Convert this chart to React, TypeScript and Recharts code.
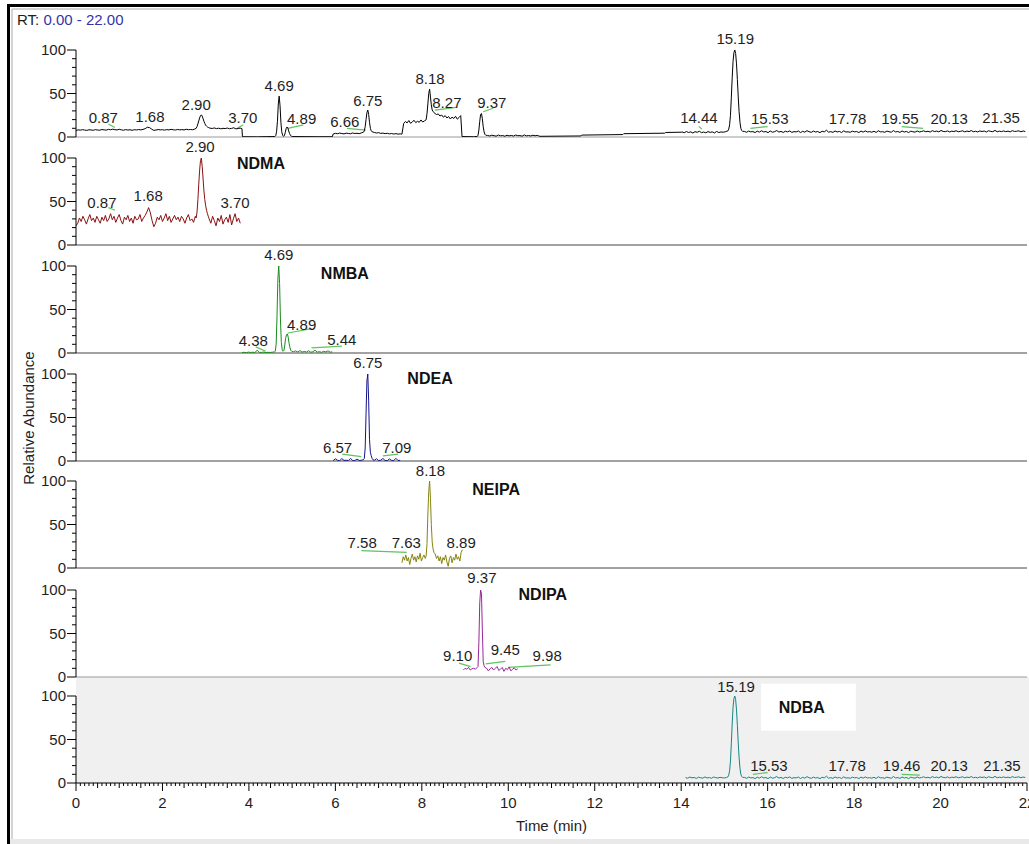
import { ComposedChart, Line, XAxis, YAxis, ReferenceLine, ReferenceDot, ReferenceArea } from 'recharts';

// ---------- traces (relative abundance %) ----------
// runs are [first retention time, sampling step in min]

// TIC
const ticA = [7.5, 8.2, 7.9, 8.4, 8.0, 7.6, 8.3, 8.1, 7.7, 8.5,
  8.0, 7.8, 8.6, 8.2, 7.9, 8.8, 8.3, 9.0, 8.4, 8.1,
  8.9, 8.2, 7.8, 8.5, 8.0, 8.3, 7.7, 8.4, 8.1, 8.6,
  8.2, 8.7, 9.6, 11.2, 10.8, 9.0, 7.6, 8.0, 8.6, 8.2,
  8.4, 7.9, 8.5, 8.1, 8.8, 8.3, 8.0, 8.7, 8.2, 8.5,
  8.1, 8.9, 8.4, 8.6, 8.3, 9.2];
const ticPeak290 = [10, 12, 15, 18.5, 22, 24.5, 25.5, 24, 21, 18, 15.5, 13.5, 12.5, 11.5, 11, 10.5];
const ticB = [10.2, 9.8, 10.4, 9.6, 10.1, 9.4, 10.0, 9.7, 10.3, 9.5, 9.9, 10.6, 9.3, 9.8, 10.2];
const ticGap1 = [[3.84, 9.5], [3.85, 0.3], [4.2, 0.2], [4.4, 0.4]];
const ticPeak469 = [0.5, 1.5, 6, 18, 38, 47, 36, 17, 6, 2, 0.8, 1.5, 5, 9.5, 11.5, 10.5, 7, 4, 2, 1, 0.5];
const ticGap2 = [[5.3, 0.4], [5.6, 0.3], [5.93, 0.3]];
const ticC = [3.5, 4.2, 3.8, 4.5, 4.0, 3.6, 4.4, 4.1, 3.7, 4.6, 4.0, 4.3, 3.8, 4.7, 5.5];
const ticPeak675 = [7, 12, 20, 28, 31, 26, 17, 10, 7, 6];
const ticD = [5.2, 4.6, 5.0, 4.1, 4.5, 3.8, 4.3, 3.6, 4.0, 3.4, 3.9, 3.3, 3.6];
const ticE = [3.2, 15.5, 17.8, 16.2, 18.9, 15.7, 17.4, 19.2, 16.5, 18.1, 16.9, 19.6, 17.2, 18.5, 19.8];
const ticPeak818 = [27, 38, 50, 55, 46, 37, 31, 29.5, 28];
const ticF = [27.2, 25.8, 26.5, 24.1, 25.3, 22.8, 24.6, 21.9, 23.5, 20.7, 22.9, 21.3, 23.8, 20.5, 22.4, 24.6];
const ticGap3 = [[8.93, 0.5], [9.2, 0.3], [9.28, 0.5]];
const ticPeak937 = [2, 8, 18, 26, 27, 21, 12, 6, 3, 2];
const ticG = [1.8, 1.2, 2.1, 1.5, 1.0, 2.3, 1.4, 1.7, 0.9, 2.0, 1.3, 1.8, 1.1, 2.2, 1.5, 1.6, 1.0, 2.4, 1.3, 1.7, 1.2, 2.0, 1.4, 1.9];
const ticSteps = [[10.73, 0.8], [11.68, 1.2], [11.7, 2.2], [12.65, 2.8], [12.67, 3.8], [13.62, 4.4], [13.64, 5.2], [14.0, 5.5]];
const ticH = [5.8, 4.9, 6.3, 5.2, 5.9, 4.6, 6.1, 5.4, 6.6, 5.0, 5.7, 4.8, 6.2, 5.3, 5.9, 4.7, 6.4, 5.1, 5.8, 5.5, 6.0];

// NDMA
const ndmaA = [22, 25, 31, 27, 33, 29, 24, 30, 35, 28,
  31, 26, 33, 29, 25, 32, 28, 34, 27, 30,
  36, 29, 33, 26, 31, 35, 28, 24, 32, 29,
  34, 27, 31, 25, 33, 29, 30, 35, 27, 31,
  34, 38, 43, 37, 28, 21, 25, 32, 29, 34,
  27, 31, 36, 28, 33, 26, 30, 34, 29, 32,
  27, 33, 30, 25, 31, 35, 28, 30, 26, 33];
const ndmaPeak = [31, 38, 52, 70, 86, 97, 100, 90, 76, 62, 52, 45, 40, 36, 33];
const ndmaB = [30, 25, 33, 28, 22, 31, 27, 34, 24, 29, 32, 26, 35, 23, 30, 36, 27, 31, 25];

// NMBA
const nmbaA = [0.5, 0.8, 0.4, 1.0, 0.6, 0.9, 0.5, 3.2, 0.7, 0.6, 1.1, 0.5, 0.8, 0.6, 0.9, 1.2];
const nmbaPeak = [2, 10, 42, 85, 100, 80, 38, 12, 4, 2, 3, 9, 17, 21, 22, 18, 11, 6, 3, 2];
const nmbaB = [1.5, 2.4, 1.2, 2.8, 1.0, 1.8, 1.1, 2.6, 0.9, 1.4, 3.2, 1.0, 1.5, 0.8, 1.9, 1.2, 2.5, 0.9, 1.3];

// NDEA
const ndeaA = [0.5, 2.5, 0.8, 0.4, 2.8, 0.6, 0.9, 0.5, 3.0, 0.7, 0.4, 2.2, 0.6, 0.8, 1.5];
const ndeaPeak = [3, 15, 55, 92, 100, 70, 25, 10, 6, 3, 1.5];
const ndeaB = [0.8, 2.6, 0.5, 0.9, 2.9, 0.6, 0.4, 2.4, 0.7, 0.5, 3.1, 0.6, 0.8];

// NEIPA
const neipaA = [6, 13, 9, 15, 8, 12, 4, 11, 16, 9, 13, 7, 14, 10, 17, 8, 12, 15, 11];
const neipaPeak = [14, 28, 62, 88, 100, 80, 50, 30, 22, 18];
const neipaB = [16, 11, 14, 8, 13, 5, 12, 9, 15, 7, 2, 11, 14, 6, 12, 9, 16, 10, 13, 8, 18, 21];

// NDIPA
const ndipaA = [8, 10, 9, 11, 8, 9.5, 10, 9, 11];
const ndipaPeak = [12, 40, 85, 100, 96, 55, 18, 13, 11];
const ndipaB = [10, 7, 9.5, 11, 8, 10, 12, 7.5, 9, 11, 6.5, 10, 8.5, 11.5, 7, 9, 10.5, 8, 9.5];

// NDBA
const ndbaPre = [6.2, 5.5, 6.8, 5.9, 6.4, 5.2, 6.7, 6.0, 5.6, 7.0, 5.8, 6.3, 5.4, 6.9, 6.1, 5.7, 6.5, 6.0, 5.8, 6.4];
const ndbaPeak = [7, 9, 14, 25, 45, 68, 87, 97, 100, 96, 84, 66, 46, 29, 17, 10, 7.5, 6.5];
const ndbaTail = [
  6.5, 5.4, 6.8, 5.9, 6.2, 5.1, 6.7, 5.6, 7.2, 5.8, 6.3, 5.0, 6.9, 5.5, 6.1, 7.4, 5.7, 6.4, 5.2, 6.6,
  5.9, 7.0, 5.3, 6.2, 5.8, 6.9, 5.1, 6.5, 5.6, 7.3, 6.0, 5.4, 6.8, 5.7, 6.3, 5.0, 6.6, 5.9, 7.8, 5.5,
  6.2, 5.3, 6.9, 5.8, 6.4, 5.2, 7.1, 5.7, 6.0, 5.4, 6.7, 5.9, 6.3, 5.1, 6.8, 5.6, 7.0, 5.8, 6.2, 5.5,
  6.6, 5.2, 7.2, 5.9, 6.1, 5.4, 6.8, 6.0, 5.5, 7.4, 5.8, 6.3, 5.3, 6.9, 5.7, 6.4, 5.1, 6.7, 6.0, 5.6,
  6.9, 5.8, 6.3, 7.1, 6.0, 6.6, 5.7, 7.3, 6.2, 6.8, 5.9, 7.5, 6.4, 6.1, 7.0, 5.8, 6.7, 6.3, 7.2, 6.0,
  6.5, 7.1, 5.9, 6.8, 6.2, 7.4, 6.0, 6.6, 5.8, 7.0, 6.3, 6.9, 5.7, 7.2, 6.4, 6.1, 7.6, 6.0, 6.7, 6.2,
  7.0, 6.1, 6.8, 5.9, 7.3, 6.4, 6.6, 7.1, 6.0, 6.9, 6.3];

// ---------- peak annotations: [text, rt position, height] ----------
const ticLabels: [string, number, number][] = [
  ['0.87', 0.63, 22], ['1.68', 1.71, 23], ['2.90', 2.78, 37], ['3.70', 3.86, 22], ['4.69', 4.7, 59],
  ['4.89', 5.22, 21], ['6.66', 6.22, 18], ['6.75', 6.75, 42], ['8.18', 8.19, 67], ['8.27', 8.58, 40],
  ['9.37', 9.62, 40], ['14.44', 14.41, 22], ['15.19', 15.25, 113], ['15.53', 16.05, 21],
  ['17.78', 17.85, 21], ['19.55', 19.06, 21], ['20.13', 20.2, 21], ['21.35', 21.4, 22],
];
const ticLeaders = [[0.75, 15, 0.9, 11], [3.73, 10, 3.87, 14], [4.9, 10, 5.26, 14], [6.27, 10, 6.7, 8],
  [8.3, 31, 8.8, 34], [9.42, 29, 9.65, 33], [14.41, 12, 14.48, 9], [15.6, 10, 16.0, 12], [19.1, 12, 19.6, 10]];

const ndmaLabels: [string, number, number][] = [['0.87', 0.6, 49], ['1.68', 1.67, 57], ['2.90', 2.87, 113], ['3.70', 3.68, 49]];
const ndmaLeaders = [[0.75, 43, 0.9, 40]];

const nmbaLabels: [string, number, number][] = [['4.38', 4.1, 14], ['4.69', 4.69, 113], ['4.89', 5.22, 32], ['5.44', 6.15, 15]];
const nmbaLeaders = [[4.16, 7, 4.39, 2], [4.9, 23, 5.45, 28], [5.45, 6, 6.15, 8]];

const ndeaLabels: [string, number, number][] = [['6.57', 6.05, 15], ['6.75', 6.75, 113], ['7.09', 7.42, 15]];
const ndeaLeaders = [[6.16, 8, 6.6, 5], [7.1, 6, 7.45, 8]];

const neipaLabels: [string, number, number][] = [['7.58', 6.62, 29], ['7.63', 7.64, 29], ['8.18', 8.2, 112], ['8.89', 8.91, 29]];
const neipaLeaders = [[6.6, 20, 7.65, 18]];

const ndipaLabels: [string, number, number][] = [['9.37', 9.39, 114], ['9.10', 8.83, 25], ['9.45', 9.93, 31], ['9.98', 10.9, 24]];
const ndipaLeaders = [[8.86, 16, 9.13, 12], [9.48, 15, 9.93, 18], [10.0, 11, 10.98, 14]];

const ndbaLabels: [string, number, number][] = [['15.19', 15.27, 111], ['15.53', 16.03, 20], ['17.78', 17.84, 20],
  ['19.46', 19.1, 20], ['20.13', 20.2, 20], ['21.35', 21.42, 20]];
const ndbaLeaders = [[15.66, 10, 16.0, 12], [19.1, 10, 19.52, 9]];

const yTicks = [0, 10, 20, 30, 40, 50, 60, 70, 80, 90, 100];
const xMajor = [0, 2, 4, 6, 8, 10, 12, 14, 16, 18, 20, 22];
const xTicks = Array.from({ length: 221 }, (_, i) => i / 10);

type Pt = { t: number; v: number };
const run = (t0: number, dt: number, vals: number[]): Pt[] =>
  vals.map((v, i) => ({ t: Math.round((t0 + i * dt) * 1000) / 1000, v }));
const pairs = (list: number[][]): Pt[] => list.map(([t, v]) => ({ t, v }));

const ndbaCore = [...run(15.08, 0.02, ndbaPeak), ...run(15.46, 0.05, ndbaTail)];

const ticData = [
  ...run(0, 0.05, ticA), ...run(2.78, 0.02, ticPeak290), ...run(3.1, 0.05, ticB), ...pairs(ticGap1),
  ...run(4.6, 0.02, ticPeak469), ...pairs(ticGap2), ...run(5.95, 0.05, ticC), ...run(6.67, 0.02, ticPeak675),
  ...run(6.9, 0.05, ticD), ...run(7.54, 0.04, ticE), ...run(8.12, 0.02, ticPeak818), ...run(8.3, 0.04, ticF),
  ...pairs(ticGap3), ...run(9.3, 0.02, ticPeak937), ...run(9.52, 0.05, ticG), ...pairs(ticSteps),
  ...run(14.02, 0.05, ticH), ...ndbaCore,
];
const ndmaData = [...run(0, 0.04, ndmaA), ...run(2.78, 0.02, ndmaPeak), ...run(3.08, 0.04, ndmaB)];
const nmbaData = [...run(3.84, 0.05, nmbaA), ...run(4.61, 0.02, nmbaPeak), ...run(5.03, 0.05, nmbaB)];
const ndeaData = [...run(5.95, 0.05, ndeaA), ...run(6.67, 0.02, ndeaPeak), ...run(6.9, 0.05, ndeaB)];
const neipaData = [...run(7.54, 0.03, neipaA), ...run(8.1, 0.02, neipaPeak), ...run(8.31, 0.03, neipaB)];
const ndipaData = [...run(8.96, 0.04, ndipaA), ...run(9.3, 0.02, ndipaPeak), ...run(9.5, 0.04, ndipaB)];
const ndbaData = [...run(14.1, 0.05, ndbaPre), ...ndbaCore];

const FONT = '"Liberation Sans", Arial, Helvetica, sans-serif';
const TXT = '#1e1e1e';
const LEADER = '#5ec45e';
const CW = 1029;
const PAD = 20;
const PH = 87;
const UNDER = 9; // room below each panel so the "0" tick label is not clipped
const AXIS_H = 54;

const YTick = ({ x, y, payload }: any) => {
  const major = payload.value % 50 === 0;
  return (
    <g>
      <line x1={x - (major ? 9 : 4)} x2={x} y1={y} y2={y} stroke="#000" />
      {major && (
        <text x={x - 10} y={y + 5} textAnchor="end" fontSize={15} fill={TXT}>{payload.value}</text>
      )}
    </g>
  );
};

const XTick = ({ x, y, payload }: any) => {
  const tenth = Math.round(payload.value * 10);
  const major = xMajor.includes(tenth / 10);
  const len = major ? 8 : tenth % 5 === 0 ? 5 : 3;
  return (
    <g>
      <line x1={x} x2={x} y1={y} y2={y + len} stroke="#000" />
      {major && (
        <text x={x} y={y + 25} textAnchor="middle" fontSize={15} fill={TXT}>{tenth / 10}</text>
      )}
    </g>
  );
};

type PanelProps = {
  top: number;
  data: Pt[];
  color: string;
  labels: [string, number, number][];
  leaders: number[][];
  name?: [string, number, number];
  box?: number[];
  baseColor?: string;
  axis?: boolean;
};

function Panel({ top, data, color, labels, leaders, name, box, baseColor = '#444', axis = false }: PanelProps) {
  const bottom = axis ? 0 : UNDER;
  const height = PAD + PH + (axis ? AXIS_H : bottom);
  return (
    <div style={{ position: 'absolute', left: 0, top }}>
      <ComposedChart width={CW} height={height} margin={{ top: PAD, right: 2, bottom, left: 0 }}>
        <XAxis
          type="number"
          dataKey="t"
          domain={[0, 22]}
          allowDataOverflow
          hide={!axis}
          height={axis ? AXIS_H : 0}
          ticks={xTicks}
          interval={0}
          tickSize={0}
          tickMargin={0}
          tickLine={false}
          tick={(p: any) => <XTick {...p} />}
          axisLine={{ stroke: '#000' }}
          label={{ value: 'Time (min)', position: 'insideBottom', offset: 6, fontSize: 15, fill: TXT }}
        />
        <YAxis
          type="number"
          domain={[0, 100]}
          allowDataOverflow
          ticks={yTicks}
          interval={0}
          width={76}
          tickSize={0}
          tickMargin={0}
          tickLine={false}
          tick={(p: any) => <YTick {...p} />}
          axisLine={{ stroke: '#000' }}
        />
        {box && (
          <ReferenceArea x1={box[0]} x2={box[1]} y1={box[2]} y2={box[3]} fill="#fff" fillOpacity={1} stroke="none" ifOverflow="visible" />
        )}
        {!axis && <ReferenceLine y={0} stroke={baseColor} ifOverflow="visible" />}
        {leaders.map((l, i) => (
          <ReferenceLine
            key={`ld-${i}`}
            segment={[{ x: l[0], y: l[1] }, { x: l[2], y: l[3] }]}
            stroke={LEADER}
            strokeWidth={1.2}
            ifOverflow="visible"
          />
        ))}
        <Line
          data={data}
          dataKey="v"
          type="linear"
          stroke={color}
          strokeWidth={1}
          dot={false}
          activeDot={false}
          isAnimationActive={false}
        />
        {labels.map(([txt, t, v], i) => (
          <ReferenceDot
            key={`lb-${i}`}
            x={t}
            y={v}
            r={0}
            fill="none"
            stroke="none"
            ifOverflow="visible"
            label={{ value: txt, position: 'center', fontSize: 15, fill: TXT }}
          />
        ))}
        {name && (
          <ReferenceDot
            x={name[1]}
            y={name[2]}
            r={0}
            fill="none"
            stroke="none"
            ifOverflow="visible"
            label={{ value: name[0], position: 'center', fontSize: 16, fontWeight: 'bold', fill: '#111' }}
          />
        )}
      </ComposedChart>
    </div>
  );
}

export default function App() {
  return (
    <div style={{ position: 'absolute', left: 0, top: 0, width: CW, height: 844, background: '#fff', fontFamily: FONT, overflow: 'hidden' }}>
      <svg width={CW} height={844} style={{ position: 'absolute', left: 0, top: 0 }}>
        <rect x={7} y={4} width={CW - 7} height={3} fill="#000" />
        <rect x={7} y={4} width={3} height={840} fill="#000" />
        <line x1={12} x2={CW} y1={9} y2={9} stroke="#a8a8a8" />
        <line x1={12} x2={12} y1={9} y2={844} stroke="#a8a8a8" />
        <rect x={10} y={839} width={CW} height={5} fill="#e9e9e9" />
        <text x={17} y={25} fontSize={15}>
          <tspan fill={TXT}>RT: </tspan>
          <tspan fill="#3434a8">0.00 - 22.00</tspan>
        </text>
        <text transform="translate(34,418) rotate(-90)" textAnchor="middle" fontSize={15} fill={TXT}>
          Relative Abundance
        </text>
      </svg>
      <Panel top={30} data={ticData} color="#000" labels={ticLabels} leaders={ticLeaders} baseColor="#9a9a9a" />
      <Panel top={138} data={ndmaData} color="#8b1010" labels={ndmaLabels} leaders={ndmaLeaders} name={['NDMA', 4.28, 94]} />
      <Panel top={246} data={nmbaData} color="#1b8a1b" labels={nmbaLabels} leaders={nmbaLeaders} name={['NMBA', 6.22, 92]} />
      <Panel top={354} data={ndeaData} color="#14148c" labels={ndeaLabels} leaders={ndeaLeaders} name={['NDEA', 8.19, 95]} />
      <Panel top={461} data={neipaData} color="#858510" labels={neipaLabels} leaders={neipaLeaders} name={['NEIPA', 9.72, 90]} />
      <div style={{ position: 'absolute', left: 76, top: 677, width: CW - 76, height: 106, background: '#f0f0f0' }} />
      <Panel top={570} data={ndipaData} color="#98289a" labels={ndipaLabels} leaders={ndipaLeaders} name={['NDIPA', 10.8, 95]} baseColor="#9a9a9a" />
      <Panel
        top={676}
        data={ndbaData}
        color="#168585"
        labels={ndbaLabels}
        leaders={ndbaLeaders}
        name={['NDBA', 16.79, 87]}
        box={[15.85, 18.04, 60, 114]}
        axis
      />
    </div>
  );
}
